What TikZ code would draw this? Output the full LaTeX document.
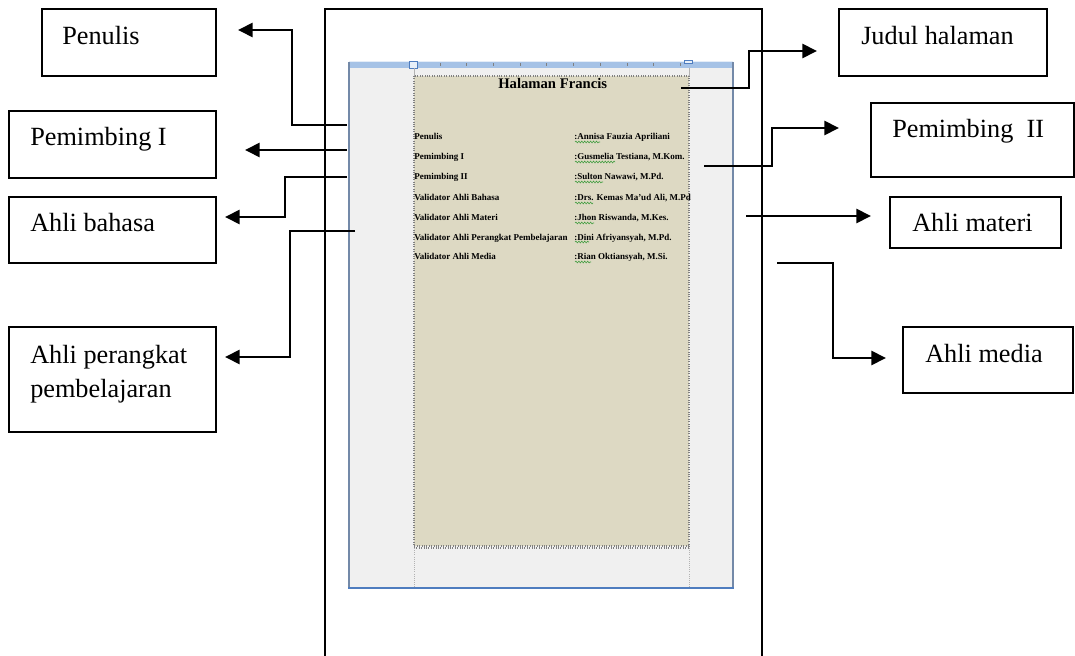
\documentclass[tikz,border=0pt]{standalone}
\usepackage{fontspec}
\setmainfont{Liberation Serif}
\usetikzlibrary{arrows.meta,decorations.pathmorphing}
\definecolor{pagetan}{HTML}{DDD9C3}
\definecolor{wingray}{HTML}{F0F0F0}
\definecolor{rulerblue}{HTML}{A5C2E6}
\definecolor{winedge}{HTML}{7389A8}
\definecolor{winbottom}{HTML}{4F7DBF}
\definecolor{spell}{HTML}{3A9A3A}
\definecolor{dotgray}{HTML}{808080}

\begin{document}
\begin{tikzpicture}[x=0.75pt,y=-0.75pt,
  box/.style={draw=black,line width=1.5pt,inner sep=0pt},
  lbl/.style={font=\fontsize{19.7}{24}\selectfont,inner sep=0pt,anchor=base west},
  conn/.style={line width=2pt,-{Triangle[length=11pt,width=10.5pt]}},
  entry/.style={font=\bfseries\fontsize{6.75}{8}\selectfont,inner sep=0pt,anchor=base west},
  squiggle/.style={spell,line width=0.4pt,decorate,decoration={snake,segment length=2.2,amplitude=0.7}}
]
\useasboundingbox (0,0) rectangle (1075,656);

% outer page frame (open at the bottom)
\draw[line width=1.5pt] (325,656) -- (325,9.5) -- (762,9.5) -- (762,656);

% editor window
\fill[wingray] (349,62) rectangle (733,588);
\fill[rulerblue] (349,61) rectangle (733,68);
\draw[white!70!rulerblue,line width=0.5pt] (349,61.5) -- (733,61.5);
\foreach \t in {440,466.7,...,681} \draw[gray,line width=0.6pt] (\t,63.5) -- (\t,66);
\draw[line width=1.5pt,winedge] (349,62) -- (349,588);
\draw[line width=1.5pt,winedge] (733,62) -- (733,588);
\draw[line width=1.5pt,winbottom] (348,588) -- (734,588);
% margin markers on the ruler
\filldraw[fill=white!75!rulerblue,draw=winbottom,line width=0.6pt] (409,61) rectangle (417,68);
\filldraw[fill=white!75!rulerblue,draw=winbottom,line width=0.6pt] (684,60.5) rectangle (692,63);

% page area
\fill[pagetan] (414,76) rectangle (689,546);
\draw[dotgray,line width=0.8pt,densely dotted] (414,76) rectangle (689,546);
\draw[dotgray,line width=0.8pt,densely dotted] (414,548) -- (689,548);
\draw[gray!60,line width=0.6pt,densely dotted] (414,548) -- (414,588) (689,548) -- (689,588);
\draw[gray!60,line width=0.6pt] (414,68) -- (414,76) (689,68) -- (689,76);

\node[font=\bfseries\fontsize{11}{13}\selectfont,inner sep=0pt,anchor=base west] (title) at (498,89) {Halaman Francis};

\node[entry] (l1) at (414,140) {Penulis};
\node[entry] (l2) at (414,160) {Pemimbing I};
\node[entry] (l3) at (414,180) {Pemimbing II};
\node[entry] (l4) at (414,201) {Validator Ahli Bahasa};
\node[entry] (l5) at (414,221) {Validator Ahli Materi};
\node[entry] (l6) at (414,240) {Validator Ahli Perangkat Pembelajaran};
\node[entry] (l7) at (414,260) {Validator Ahli Media};

\node[entry] (r1) at (574,140) {:Annisa Fauzia Apriliani};
\node[entry] (r2) at (574,160) {:Gusmelia Testiana, M.Kom.};
\node[entry] (r3) at (574,180) {:Sulton Nawawi, M.Pd.};
\node[entry] (r4) at (574,201) {:Drs. Kemas Ma’ud Ali, M.Pd};
\node[entry] (r5) at (574,221) {:Jhon Riswanda, M.Kes.};
\node[entry] (r6) at (574,240) {:Dini Afriyansyah, M.Pd.};
\node[entry] (r7) at (574,260) {:Rian Oktiansyah, M.Si.};

% spelling marks under names
\draw[squiggle] (575,142) -- (600,142);
\draw[squiggle] (575,162) -- (615,162);
\draw[squiggle] (575,182) -- (603,182);
\draw[squiggle] (575,203) -- (593,203);
\draw[squiggle] (575,223) -- (594,223);
\draw[squiggle] (575,242) -- (589,242);
\draw[squiggle] (575,262) -- (591,262);

% caption boxes, left
\node[box,minimum width={174*0.75pt},minimum height={66.5*0.75pt}] (bPen) at (129,42.75) {};
\node[lbl] (tPenulis) at (62,45) {Penulis};
\node[box,minimum width={207*0.75pt},minimum height={67*0.75pt}] (bPem1) at (112.5,144.5) {};
\node[lbl] (tPem1) at (30,146) {Pemimbing I};
\node[box,minimum width={207*0.75pt},minimum height={66*0.75pt}] (bBah) at (112.5,230) {};
\node[lbl] (tBah) at (30,232) {Ahli bahasa};
\node[box,minimum width={207*0.75pt},minimum height={105*0.75pt}] (bPer) at (112.5,379.5) {};
\node[lbl] (tPer1) at (30,363) {Ahli perangkat};
\node[lbl] (tPer2) at (30,397) {pembelajaran};

% caption boxes, right
\node[box,minimum width={208*0.75pt},minimum height={66.5*0.75pt}] (bJud) at (943,42.75) {};
\node[lbl] (tJud) at (861,45) {Judul halaman};
\node[box,minimum width={203*0.75pt},minimum height={74*0.75pt}] (bPem2) at (972.5,140) {};
\node[lbl] (tPem2) at (892,138) {Pemimbing\ \ II};
\node[box,minimum width={171*0.75pt},minimum height={51*0.75pt}] (bMat) at (975.5,222.5) {};
\node[lbl] (tMat) at (912,232) {Ahli materi};
\node[box,minimum width={170*0.75pt},minimum height={66*0.75pt}] (bMed) at (988,360) {};
\node[lbl] (tMed) at (925,362) {Ahli media};

% connector ends and corners
\coordinate (sPen) at (347,125);   \coordinate (cPen) at (292,30);   \coordinate (ePen) at (238,30);
\coordinate (sPem1) at (347,150);  \coordinate (ePem1) at (245,150);
\coordinate (sBah) at (347,177);   \coordinate (cBah) at (285,217);  \coordinate (eBah) at (225,217);
\coordinate (sPer) at (355,231);   \coordinate (cPer) at (290,357);  \coordinate (ePer) at (225,357);
\coordinate (sJud) at (681,88);    \coordinate (cJud) at (749,51);   \coordinate (eJud) at (817,51);
\coordinate (sPem2) at (704,166);  \coordinate (cPem2) at (772,128); \coordinate (ePem2) at (839,128);
\coordinate (sMat) at (746,216);   \coordinate (eMat) at (871,216);
\coordinate (sMed) at (777,263);   \coordinate (cMed) at (833,358);  \coordinate (eMed) at (886,358);

\draw[conn] (sPen) -| (cPen) -- (ePen);
\draw[conn] (sPem1) -- (ePem1);
\draw[conn] (sBah) -| (cBah) -- (eBah);
\draw[conn] (sPer) -| (cPer) -- (ePer);
\draw[conn] (sJud) -| (cJud) -- (eJud);
\draw[conn] (sPem2) -| (cPem2) -- (ePem2);
\draw[conn] (sMat) -- (eMat);
\draw[conn] (sMed) -| (cMed) -- (eMed);
\end{tikzpicture}
\end{document}
